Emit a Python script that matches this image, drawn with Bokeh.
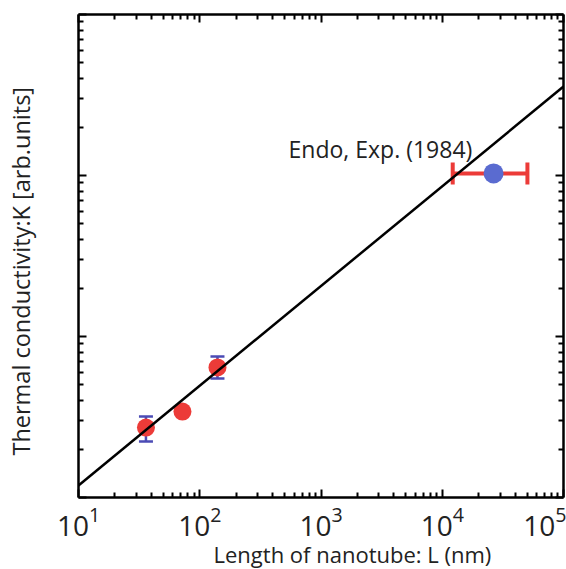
from bokeh.plotting import figure
from bokeh.models import (Range1d, LogAxis, FixedTicker, Whisker, TeeHead, LogScale,
                          ColumnDataSource, CustomJSTickFormatter, Label, LogTickFormatter)
from bokeh.embed import file_html
from bokeh.resources import INLINE

# ---- data ----
red_x = [36, 72, 140]
red_y = [2.72, 3.42, 6.42]
vbar_x = [36, 140]
vbar_lo = [2.23, 5.48]
vbar_hi = [3.18, 7.51]
exp_x = [26500]
exp_y = [103]
exp_xlo = [12200]
exp_xhi = [50400]
fit_x = [10, 100000]
fit_y = [1.187, 357]
x_major = [10, 100, 1000, 10000, 100000]
y_major = [1, 10, 100, 1000]
mantissas = [2, 3, 4, 5, 6, 7, 8, 9]
annot_text = "Endo, Exp. (1984)"
annot_x = 540
annot_y = 147
x_label = "Length of nanotube: L (nm)"
y_label = "Thermal conductivity:K [arb.units]"

x_minor = [d * m for d in x_major[:-1] for m in mantissas]
y_minor = [d * m for d in y_major[:-1] for m in mantissas]

NBSP = "\u00a0"
FONT = "Open Sans"
RED = "#ec3b38"
BLUE = "#5a6bd0"
WBLUE = "#4b4bb5"
TXT = "#222222"

p = figure(x_axis_type=None, y_axis_type=None,
           x_range=Range1d(10, 1e5), y_range=Range1d(1, 1000),
           frame_width=485, frame_height=483,
           min_border_left=78, min_border_top=14, min_border_right=3,
           min_border_bottom=72,
           output_backend="svg", toolbar_location=None)
p.x_scale = LogScale()
p.y_scale = LogScale()
p.xgrid.visible = False
p.ygrid.visible = False
p.outline_line_color = None
p.background_fill_color = "white"
p.border_fill_color = "white"

empty = CustomJSTickFormatter(code="return ''")


def style(ax, labels=True):
    ax.axis_line_width = 2.5
    ax.axis_line_color = "black"
    ax.major_tick_in = 8
    ax.major_tick_out = 0
    ax.minor_tick_in = 5
    ax.minor_tick_out = 0
    ax.major_tick_line_width = 2
    ax.minor_tick_line_width = 2
    ax.major_tick_line_color = "black"
    ax.minor_tick_line_color = "black"
    if not labels:
        ax.formatter = empty
        ax.major_label_text_font_size = "1px"


bottom = LogAxis(ticker=FixedTicker(ticks=x_major, minor_ticks=x_minor),
                 formatter=LogTickFormatter())
style(bottom)
bottom.major_label_text_font = FONT
bottom.major_label_text_font_size = "28px"
bottom.major_label_text_color = TXT
bottom.major_label_standoff = 9
# leading no-break spaces shift the centred title right, as in the reference
bottom.axis_label = NBSP * 11 + x_label
bottom.axis_label_text_font = FONT
bottom.axis_label_text_font_style = "normal"
bottom.axis_label_text_font_size = "22px"
bottom.axis_label_text_color = TXT
bottom.axis_label_standoff = 0
p.add_layout(bottom, "below")

left = LogAxis(ticker=FixedTicker(ticks=y_major, minor_ticks=y_minor))
style(left, labels=False)
left.axis_label = y_label + NBSP * 5
left.axis_label_text_font = FONT
left.axis_label_text_font_style = "normal"
left.axis_label_text_font_size = "23.5px"
left.axis_label_text_color = TXT
left.axis_label_standoff = 42
p.add_layout(left, "left")

top = LogAxis(ticker=FixedTicker(ticks=x_major, minor_ticks=x_minor))
style(top, labels=False)
p.add_layout(top, "above")

right = LogAxis(ticker=FixedTicker(ticks=y_major, minor_ticks=y_minor))
style(right, labels=False)
p.add_layout(right, "right")

# error bars
vsrc = ColumnDataSource(dict(x=vbar_x, lo=vbar_lo, hi=vbar_hi))
vw = Whisker(source=vsrc, base="x", lower="lo", upper="hi", dimension="height",
             line_color=WBLUE, line_width=2.5, level="underlay",
             upper_head=TeeHead(size=14, line_color=WBLUE, line_width=2.5),
             lower_head=TeeHead(size=14, line_color=WBLUE, line_width=2.5))
p.add_layout(vw)

hsrc = ColumnDataSource(dict(y=exp_y, lo=exp_xlo, hi=exp_xhi))
hw = Whisker(source=hsrc, base="y", lower="lo", upper="hi", dimension="width",
             line_color=RED, line_width=4, level="underlay",
             upper_head=TeeHead(size=22, line_color=RED, line_width=4),
             lower_head=TeeHead(size=22, line_color=RED, line_width=4))
p.add_layout(hw)

p.scatter(red_x, red_y, size=18, fill_color=RED, line_color=None)
p.scatter(exp_x, exp_y, size=20, fill_color=BLUE, line_color=None)
p.line(fit_x, fit_y, line_color="black", line_width=2.5)

p.add_layout(Label(x=annot_x, y=annot_y, text=annot_text,
                   text_font=FONT, text_font_size="23px",
                   text_color=TXT, text_baseline="alphabetic"))

html = file_html(p, INLINE)
open("out.html", "w").write(html)
